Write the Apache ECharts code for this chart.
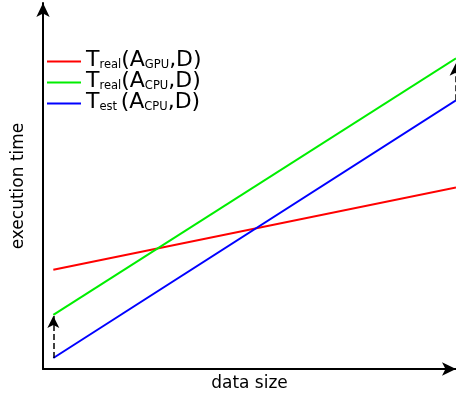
<!DOCTYPE html>
<html><head><meta charset="utf-8">
<script src="https://cdn.jsdelivr.net/npm/echarts@6/dist/echarts.min.js"></script>
<style>html,body{margin:0;padding:0;background:#fff}#c{width:456px;height:401px}</style>
</head><body><div id="c"></div>
<script>
const xRange = [0, 100];
const xPoints = [2.5, 100];
const realGPU = [27.1, 49.6];
const realCPU = [14.8, 84.9];
const estCPU = [3.0, 73.4];
const seriesNames = ['Treal(AGPU,D)', 'Treal(ACPU,D)', 'Test(ACPU,D)'];
const legendRich = {
  'Treal(AGPU,D)': '{b|T}{s|real}{b|(A}{s|GPU}{b|,D)}',
  'Treal(ACPU,D)': '{b|T}{s|real}{b|(A}{s|CPU}{b|,D)}',
  'Test(ACPU,D)': '{b|T}{s|est }{b|(A}{s|CPU}{b|,D)}'
};
const colors = ['#ff0000', '#00ee00', '#0000ff'];
const font = 'DejaVu Sans';

function pts(ys) { return xPoints.map((x, i) => [x, ys[i]]); }

const chart = echarts.init(document.getElementById('c'), null, {renderer: 'canvas'});
chart.setOption({
  animation: false,
  grid: {left: 43, right: 0, top: 3, bottom: 32, containLabel: false},
  xAxis: {
    type: 'value', min: xRange[0], max: xRange[1],
    name: 'data size', nameLocation: 'middle', nameGap: 6,
    nameTextStyle: {fontFamily: font, fontSize: 17, color: '#000'},
    axisLine: {lineStyle: {color: '#000', width: 2}, symbol: ['none', 'arrow'], symbolSize: [10, 14]},
    axisTick: {show: false}, axisLabel: {show: false}, splitLine: {show: false}
  },
  yAxis: {
    type: 'value', min: 0, max: 100,
    name: 'execution time', nameLocation: 'middle', nameGap: 16,
    nameTextStyle: {fontFamily: font, fontSize: 17, color: '#000'},
    axisLine: {lineStyle: {color: '#000', width: 2}, symbol: ['none', 'arrow'], symbolSize: [10, 14]},
    axisTick: {show: false}, axisLabel: {show: false}, splitLine: {show: false}
  },
  legend: {
    left: 47, top: 40.5, padding: 0, orient: 'vertical', itemGap: -10,
    itemWidth: 34, itemHeight: 2, icon: 'rect',
    data: seriesNames,
    formatter: n => legendRich[n],
    textStyle: {
      fontFamily: font, color: '#000',
      rich: {
        b: {fontSize: 22, fontFamily: font, color: '#000', verticalAlign: 'bottom', lineHeight: 20, padding: [9, 0, 0, 0]},
        s: {fontSize: 11.5, fontFamily: font, color: '#000', verticalAlign: 'bottom', lineHeight: 20, padding: [9, 0, 0, 0]}
      }
    }
  },
  series: [
    {name: seriesNames[0], type: 'line', data: pts(realGPU), showSymbol: false, lineStyle: {color: colors[0], width: 2}, itemStyle: {color: colors[0]}},
    {name: seriesNames[1], type: 'line', data: pts(realCPU), showSymbol: false, lineStyle: {color: colors[1], width: 2}, itemStyle: {color: colors[1]}},
    {name: seriesNames[2], type: 'line', data: pts(estCPU), showSymbol: false, lineStyle: {color: colors[2], width: 2}, itemStyle: {color: colors[2]},
     markLine: {
       silent: true, symbol: ['none', 'arrow'], symbolSize: [9, 12],
       label: {show: false},
       lineStyle: {color: '#000', type: 'dashed', width: 1.5},
       data: [
         [{coord: [xPoints[0], estCPU[0]]}, {coord: [xPoints[0], realCPU[0] - 0.3]}],
         [{coord: [99.9, estCPU[1]]}, {coord: [99.9, realCPU[1] - 1.5]}]
       ]
     }}
  ]
});
</script></body></html>
